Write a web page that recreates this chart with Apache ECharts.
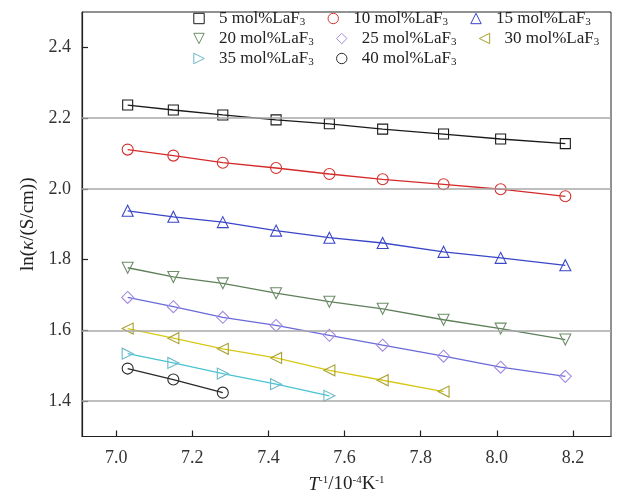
<!DOCTYPE html>
<html><head><meta charset="utf-8">
<script src="https://cdn.jsdelivr.net/npm/echarts@6/dist/echarts.min.js"></script>
<style>html,body{margin:0;padding:0;background:#fff}#c{width:622px;height:499px}</style>
</head><body><div id="c"></div>
<script>
const xValues = [7.03, 7.15, 7.28, 7.42, 7.56, 7.70, 7.86, 8.01, 8.18];
const names = ['5 mol%LaF3','10 mol%LaF3','15 mol%LaF3','20 mol%LaF3','25 mol%LaF3','30 mol%LaF3','35 mol%LaF3','40 mol%LaF3'];
const s5  = [2.237, 2.223, 2.209, 2.195, 2.184, 2.169, 2.155, 2.141, 2.128];
const s10 = [2.111, 2.094, 2.074, 2.059, 2.042, 2.027, 2.013, 1.999, 1.979];
const s15 = [1.938, 1.921, 1.906, 1.882, 1.862, 1.847, 1.822, 1.805, 1.784];
const s20 = [1.777, 1.751, 1.733, 1.705, 1.681, 1.661, 1.630, 1.605, 1.574];
const s25 = [1.693, 1.667, 1.637, 1.614, 1.586, 1.558, 1.527, 1.496, 1.470];
const s30 = [1.605, 1.578, 1.548, 1.522, 1.487, 1.459, 1.427];
const s35 = [1.534, 1.508, 1.478, 1.448, 1.415];
const s40 = [1.492, 1.461, 1.424];
const xTicks = [7.0, 7.2, 7.4, 7.6, 7.8, 8.0, 8.2];
const yTicks = [1.4, 1.6, 1.8, 2.0, 2.2, 2.4];
const gridLinesY = [1.4, 1.6, 2.0, 2.2];

const allY = [s5, s10, s15, s20, s25, s30, s35, s40];
const symbols = ['rect','circle','triangle','triangle','diamond','triangle','triangle','circle'];
const rotates = [0, 0, 0, 180, 0, 90, -90, 0];
const lineColors = ['#1a1a1a','#d42a2a','#3a46c8','#5e7f5a','#6a6ad8','#d8c818','#48c4d4','#2a2a2a'];
const markColors = ['#1a1a1a','#d43030','#3a46c8','#6e8e6a','#a48ae0','#a8a030','#6ab8c8','#2a2a2a'];
const sizes = [10, 11, 11, 11, 12, 11, 11, 11];

const serif = 'Liberation Serif';
const series = allY.map((ys, i) => ({
  name: names[i],
  type: 'line',
  data: ys.map((y, j) => [xValues[j], y]),
  symbol: symbols[i],
  symbolRotate: rotates[i],
  symbolSize: sizes[i],
  lineStyle: { color: lineColors[i], width: 1.3 },
  itemStyle: { color: 'rgba(255,255,255,0)', borderColor: markColors[i], borderWidth: 1.1 },
  z: 3
}));
series.push({
  type: 'line', data: [], silent: true,
  markLine: {
    silent: true, symbol: 'none', label: { show: false },
    lineStyle: { color: '#a8a8a8', width: 1.6, type: 'solid' },
    data: gridLinesY.map(v => ({ yAxis: v }))
  }
});

const legendCommon = {
  orient: 'horizontal', left: 183, padding: 0, itemWidth: 30, itemHeight: 13, itemGap: 12,
  lineStyle: { opacity: 0 },
  itemStyle: { borderWidth: 1 },
  textStyle: { fontFamily: serif, fontSize: 17, color: '#222',
    rich: { s: { fontFamily: serif, fontSize: 11, color: '#222', padding: [7, 0, 0, 0] } } },
  formatter: n => n.replace(/3$/, '{s|3}')
};
const rows = [[0, 1, 2], [3, 4, 5], [6, 7]];
const rowTops = [10, 30, 50];

const chart = echarts.init(document.getElementById('c'));
chart.setOption({
  backgroundColor: '#fff',
  animation: false,
  grid: { left: 82, right: 11, top: 12, bottom: 60, show: true, borderColor: '#222', borderWidth: 1 },
  legend: rows.map((r, k) => Object.assign({}, legendCommon, { top: rowTops[k], data: r.map(i => names[i]) })),
  xAxis: {
    type: 'value', min: 6.91, max: 8.3,
    name: '{i|T}{sup|-1}/10{sup|-4}K{sup|-1}', nameLocation: 'middle', nameGap: 38,
    nameTextStyle: { fontFamily: serif, fontSize: 19, color: '#222', rich: {
      i: { fontFamily: serif, fontStyle: 'italic', fontSize: 19, color: '#222' },
      sup: { fontFamily: serif, fontSize: 11, color: '#222', padding: [0, 0, 9, 0] } } },
    axisLine: { lineStyle: { color: '#222', width: 1.2 } },
    axisTick: { inside: true, length: 6, customValues: xTicks, lineStyle: { color: '#222', width: 1.2 } },
    axisLabel: { customValues: xTicks, fontFamily: serif, fontSize: 18, color: '#333', margin: 13, formatter: v => v.toFixed(1) },
    splitLine: { show: false }
  },
  yAxis: {
    type: 'value', min: 1.3, max: 2.5,
    name: 'ln({i|κ}/(S/cm))', nameLocation: 'middle', nameGap: 44, nameRotate: 90,
    nameTextStyle: { fontFamily: serif, fontSize: 19, color: '#222', rich: {
      i: { fontFamily: serif, fontStyle: 'italic', fontSize: 19, color: '#222' } } },
    axisLine: { show: true, lineStyle: { color: '#222', width: 1.2 } },
    axisTick: { show: true, inside: true, length: 6, customValues: yTicks, lineStyle: { color: '#222', width: 1.2 } },
    axisLabel: { customValues: yTicks, fontFamily: serif, fontSize: 18, color: '#333', margin: 11, formatter: v => v.toFixed(1) },
    splitLine: { show: false }
  },
  series: series
});
</script></body></html>
